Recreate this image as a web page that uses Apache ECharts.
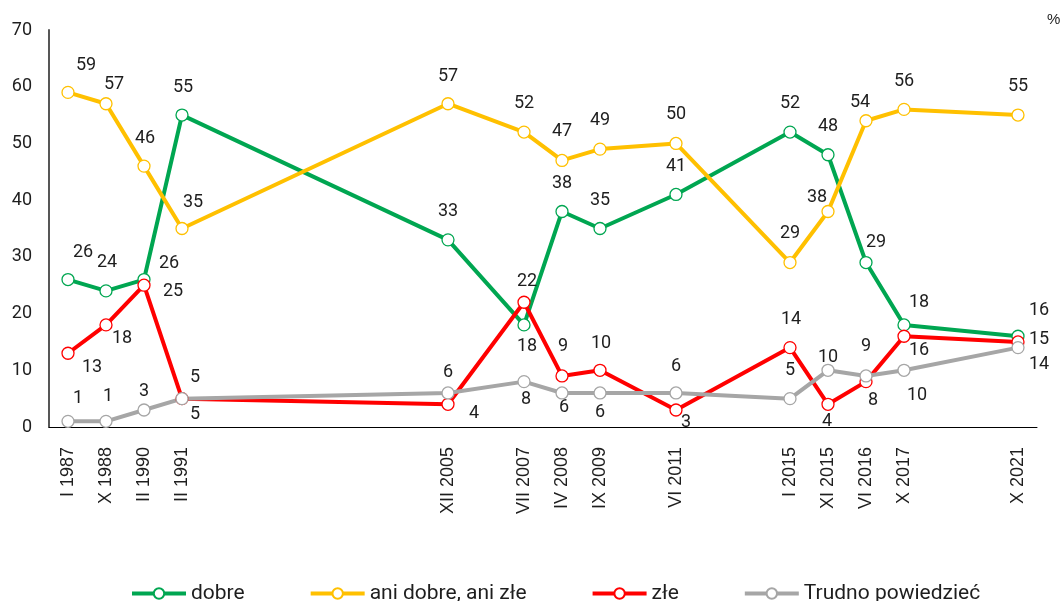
<!DOCTYPE html>
<html>
<head>
<meta charset="utf-8">
<script src="https://cdn.jsdelivr.net/npm/echarts@6/dist/echarts.min.js"></script>
<style>
  html, body { margin: 0; padding: 0; background: #fff; }
  #chart { width: 1060px; height: 601px; }
</style>
</head>
<body>
<div id="chart"></div>
<script>
// axis slots, blank ones only keep the uneven spacing
const categories = [
  'I 1987', 'X 1988', 'II 1990', 'II 1991', '', '', '', '', '', '',
  'XII 2005', '', 'VII 2007', 'IV 2008', 'IX 2009', '', 'VI 2011', '', '',
  'I 2015', 'XI 2015', 'VI 2016', 'X 2017', '', '', 'X 2021'
]

const dobre = [26, 24, 26, 55, 33, 18, 38, 35, 41, 52, 48, 29, 18, 16]
const aniDobre = [59, 57, 46, 35, 57, 52, 47, 49, 50, 29, 38, 54, 56, 55]
const zle = [13, 18, 25, 5, 4, 22, 9, 10, 3, 14, 4, 8, 16, 15]
const trudno = [1, 1, 3, 5, 6, 8, 6, 6, 6, 5, 10, 9, 10, 14]

// label offsets from the point centre [dx, dy]
const dobreLbl = [[15, -27], [1, -28], [25, -16], [1, -28], [0, -28], [3, 22], [0, -28], [0, -28], [0, -28], [0, -29], [0, -28], [10, -20], [15, -22], [21, -26]]
const aniLbl = [[18, -27], [8, -19], [1, -28], [11, -26], [0, -27], [0, -29], [0, -29], [0, -29], [0, -29], [0, -29], [-11, -14], [-6, -18], [0, -28], [0, -29]]
const zleLbl = [[24, 14], [16, 14], [29, 6], [13, 16], [26, 9], [3, -21], [1, -29], [1, -27], [10, 13], [1, -28], [-1, 17], [7, 19], [15, 14], [21, -2]]
const trudnoLbl = [[10, -23], [2, -25], [0, -18], [13, -21], [0, -20], [2, 18], [2, 15], [0, 20], [0, -26], [0, -28], [0, -13], [0, -29], [13, 25], [21, 17]]

function buildData(values, offsets) {
  const out = []
  let i = 0
  categories.forEach(function(c) {
    if (c === '') {
      out.push(null)
    } else {
      out.push({
        value: values[i],
        label: { offset: offsets[i] }
      })
      i++
    }
  })
  return out
}

function makeSeries(name, color, values, offsets) {
  return {
    name: name,
    type: 'line',
    connectNulls: true,
    data: buildData(values, offsets),
    symbol: 'circle',
    symbolSize: 12,
    lineStyle: { color: color, width: 4 },
    itemStyle: { color: '#fff', borderColor: color, borderWidth: 1.3 },
    label: {
      show: true,
      position: 'inside',
      color: '#1e1e1e',
      fontFamily: 'Roboto',
      fontSize: 18
    },
    emphasis: { disabled: true },
    animation: false
  }
}

const chart = echarts.init(document.getElementById('chart'))

chart.setOption({
  backgroundColor: '#fff',
  grid: {
    left: 49,
    right: 23,
    top: 30,
    bottom: 174
  },
  legend: {
    left: 130,
    top: 583,
    padding: 0,
    itemWidth: 54,
    itemHeight: 13,
    itemGap: 64,
    lineStyle: { width: 4 },
    textStyle: {
      fontFamily: 'Roboto',
      fontSize: 21,
      color: '#1e1e1e'
    },
    data: ['dobre', 'ani dobre, ani złe', 'złe', 'Trudno powiedzieć']
  },
  graphic: [{
    type: 'text',
    left: 1047,
    top: 12,
    style: { text: '%', font: '15px "Liberation Sans"', fill: '#1e1e1e' }
  }],
  xAxis: {
    type: 'category',
    data: categories,
    boundaryGap: true,
    axisLine: { lineStyle: { color: '#000', width: 1 } },
    axisTick: { show: false },
    axisLabel: {
      interval: 0,
      rotate: 90,
      margin: 20,
      color: '#1e1e1e',
      fontFamily: 'Liberation Sans',
      fontSize: 18
    }
  },
  yAxis: {
    type: 'value',
    min: 0,
    max: 70,
    interval: 10,
    axisLine: { show: true, lineStyle: { color: '#444', width: 1.8 } },
    axisTick: { show: false },
    splitLine: { show: false },
    axisLabel: {
      margin: 17,
      color: '#1e1e1e',
      fontFamily: 'Roboto',
      fontSize: 18
    }
  },
  series: [
    makeSeries('dobre', '#00a651', dobre, dobreLbl),
    makeSeries('ani dobre, ani złe', '#ffc000', aniDobre, aniLbl),
    makeSeries('złe', '#ff0000', zle, zleLbl),
    makeSeries('Trudno powiedzieć', '#a6a6a6', trudno, trudnoLbl)
  ]
})
</script>
</body>
</html>
